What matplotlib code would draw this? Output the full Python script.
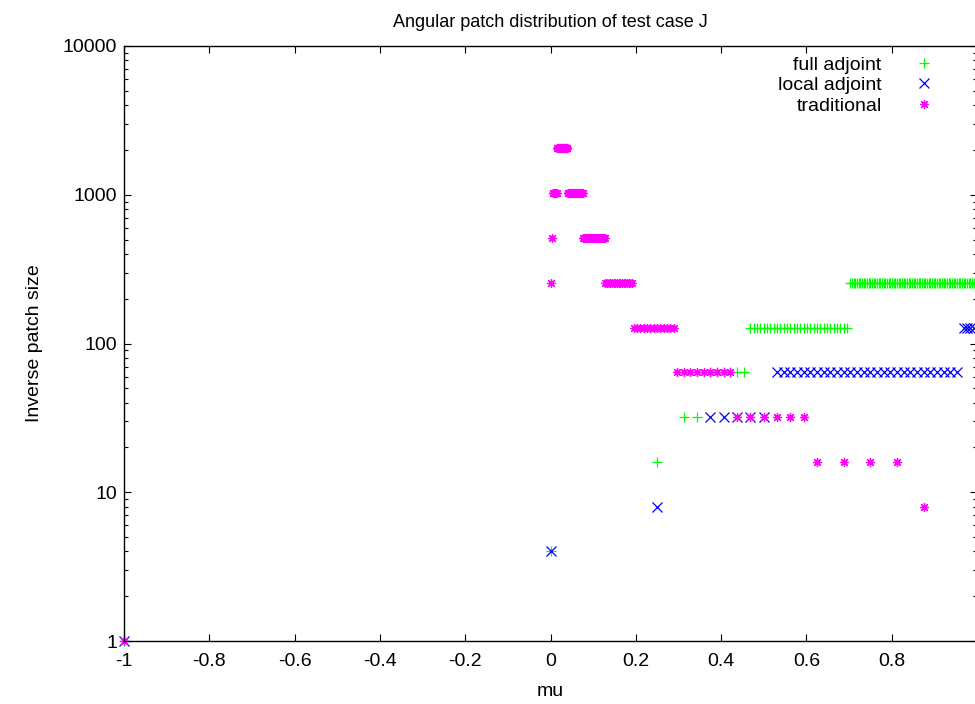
import numpy as np
import matplotlib
matplotlib.use("Agg")
import matplotlib.pyplot as plt
from matplotlib.ticker import LogLocator, NullFormatter, FixedLocator

plt.rcParams['font.family'] = ['Liberation Sans', 'DejaVu Sans']
plt.rcParams['font.size'] = 14

# Angular patches per scheme: {inverse patch size: patch indices}; a patch with
# index k at inverse size N starts at mu = k / N.
full_adjoint = {
    1: [-1],
    4: [0],
    16: [4],
    32: [10, 11],
    64: [24, 25, 26, 27, 28, 29],
    128: [60, 61, 62, 63, 64, 65, 66, 67, 68, 69, 70, 71, 72, 73, 74, 75, 76,
          77, 78, 79, 80, 81, 82, 83, 84, 85, 86, 87, 88, 89],
    256: [180, 181, 182, 183, 184, 185, 186, 187, 188, 189, 190, 191, 192, 193,
          194, 195, 196, 197, 198, 199, 200, 201, 202, 203, 204, 205, 206, 207,
          208, 209, 210, 211, 212, 213, 214, 215, 216, 217, 218, 219, 220, 221,
          222, 223, 224, 225, 226, 227, 228, 229, 230, 231, 232, 233, 234, 235,
          236, 237, 238, 239, 240, 241, 242, 243, 244, 245, 246, 247, 248, 249,
          250, 251, 252, 253, 254, 255],
}

local_adjoint = {
    1: [-1],
    4: [0],
    8: [2],
    32: [12, 13, 14, 15, 16],
    64: [34, 35, 36, 37, 38, 39, 40, 41, 42, 43, 44, 45, 46, 47, 48, 49, 50, 51,
         52, 53, 54, 55, 56, 57, 58, 59, 60, 61],
    128: [124, 125, 126, 127],
}

traditional = {
    1: [-1],
    8: [7],
    16: [10, 11, 12, 13],
    32: [14, 15, 16, 17, 18, 19],
    64: [19, 20, 21, 22, 23, 24, 25, 26, 27],
    128: [25, 26, 27, 28, 29, 30, 31, 32, 33, 34, 35, 36, 37],
    256: [0, 33, 34, 35, 36, 37, 38, 39, 40, 41, 42, 43, 44, 45, 46, 47, 48, 49],
    512: [2, 39, 40, 41, 42, 43, 44, 45, 46, 47, 48, 49, 50, 51, 52, 53, 54, 55,
          56, 57, 58, 59, 60, 61, 62, 63, 64, 65],
    1024: [6, 7, 8, 9, 10, 11, 12, 13, 14, 15, 41, 42, 43, 44, 45, 46, 47, 48,
           49, 50, 51, 52, 53, 54, 55, 56, 57, 58, 59, 60, 61, 62, 63, 64, 65,
           66, 67, 68, 69, 70, 71, 72, 73, 74, 75, 76, 77],
    2048: [32, 33, 34, 35, 36, 37, 38, 39, 40, 41, 42, 43, 44, 45, 46, 47, 48,
           49, 50, 51, 52, 53, 54, 55, 56, 57, 58, 59, 60, 61, 62, 63, 64, 65,
           66, 67, 68, 69, 70, 71, 72, 73, 74, 75, 76, 77, 78, 79, 80, 81],
}

x_ticks = [-1, -0.8, -0.6, -0.4, -0.2, 0, 0.2, 0.4, 0.6, 0.8]
x_tick_labels = ["-1", "-0.8", "-0.6", "-0.4", "-0.2", "0", "0.2", "0.4", "0.6", "0.8"]
y_ticks = [1, 10, 100, 1000, 10000]
y_tick_labels = ["1", "10", "100", "1000", "10000"]


def to_points(patches):
    mu, inv = [], []
    for n, idx in patches.items():
        for k in idx:
            mu.append(k / n)
            inv.append(n)
    return np.array(mu), np.array(inv)


W, H = 975, 704
fig = plt.figure(figsize=(W / 100, H / 100), dpi=100)
ax = fig.add_axes([124 / W, (H - 641) / H, 853 / W, 595 / H])

series = [
    ("full adjoint", full_adjoint, "+", "#00ff00"),
    ("local adjoint", local_adjoint, "x", "#0000ff"),
    ("traditional", traditional, (8, 2, 0), "#ff00ff"),
]
for label, patches, marker, color in series:
    mu, inv = to_points(patches)
    ax.plot(mu, inv, linestyle="none", marker=marker, markersize=6.5,
            markeredgewidth=0.9, color=color, label=label, clip_on=False)

ax.set_yscale("log")
ax.set_xlim(-1, 1)
ax.set_ylim(1, 10000)

ax.xaxis.set_major_locator(FixedLocator(x_ticks))
ax.set_xticklabels(x_tick_labels)
ax.yaxis.set_major_locator(FixedLocator(y_ticks))
ax.set_yticklabels(y_tick_labels)
ax.yaxis.set_minor_locator(LogLocator(base=10, subs=np.arange(2, 10)))
ax.yaxis.set_minor_formatter(NullFormatter())

ax.tick_params(which="both", direction="in", top=True, right=True, width=0.8)
ax.tick_params(which="major", length=5)
ax.tick_params(which="minor", length=3)
ax.tick_params(axis="x", which="major", pad=9)
ax.tick_params(axis="y", which="major", pad=5)
for s in ax.spines.values():
    s.set_linewidth(1.0)

ax.set_title("Angular patch distribution of test case J", fontsize=13, pad=14)
ax.set_xlabel("mu", labelpad=9)
ax.set_ylabel("Inverse patch size", labelpad=14)

ax.legend(loc="upper right", bbox_to_anchor=(940 / W, 1 - 56 / H),
          bbox_transform=fig.transFigure, frameon=False, markerfirst=False,
          borderpad=0, borderaxespad=0, handlelength=1.6, handletextpad=1.4,
          labelspacing=0.15, numpoints=1)

fig.savefig("out.png", dpi=100)
